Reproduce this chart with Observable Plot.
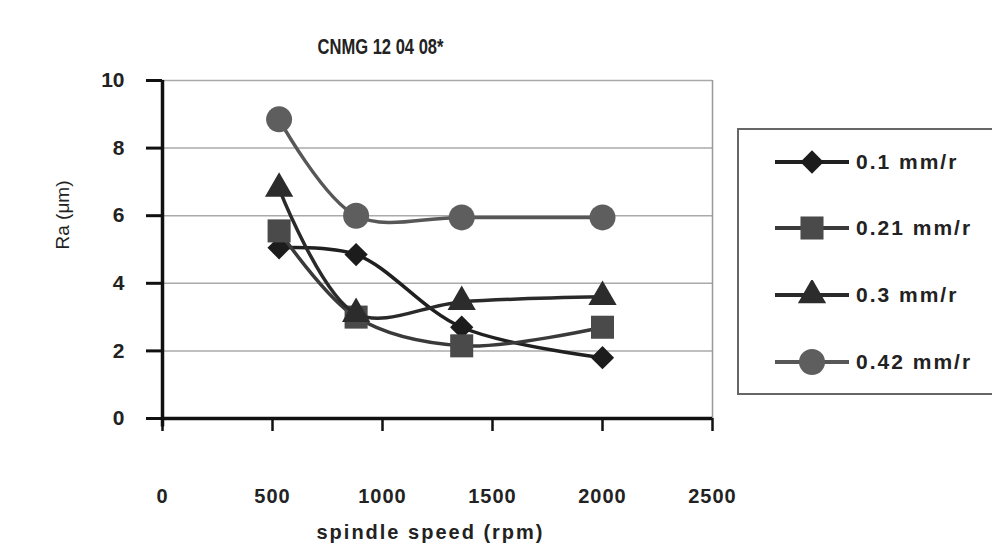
<!DOCTYPE html>
<html><head><meta charset="utf-8">
<script src="https://cdn.jsdelivr.net/npm/d3@7"></script>
<script src="https://cdn.jsdelivr.net/npm/@observablehq/plot@0.6"></script>
<style>
body{margin:0;background:#fff;}
#wrap{position:relative;width:992px;height:558px;overflow:hidden;font-family:"Liberation Sans",Arial,sans-serif;}
#legend{position:absolute;left:737px;top:128px;width:280px;height:267px;border:2px solid #666;box-sizing:border-box;background:#fff;}
.entry{position:absolute;left:34px;height:30px;display:flex;align-items:center;}
.entry span{font-weight:bold;font-size:21px;letter-spacing:2px;color:#222;margin-left:5px;}
g[aria-label="x-axis tick label"] text{letter-spacing:1px;}
</style></head><body><div id="wrap"></div>
<script>
// Data
const title = "CNMG 12 04 08*";
const xLabel = "spindle speed (rpm)";
const yLabel = "Ra (μm)";
const xTicks = [0, 500, 1000, 1500, 2000, 2500];
const yTicks = [0, 2, 4, 6, 8, 10];
const speeds = [530, 880, 1360, 2000];
const seriesNames = ["0.1 mm/r", "0.21 mm/r", "0.3 mm/r", "0.42 mm/r"];
const ra01 = [5.05, 4.85, 2.7, 1.8];
const ra021 = [5.55, 3.0, 2.15, 2.7];
const ra03 = [6.8, 3.1, 3.45, 3.6];
const ra042 = [8.85, 6.0, 5.95, 5.95];

const styles = [
  {symbol: "diamond2", r: 10.5, fill: "#1c1c1c", stroke: "#202020"},
  {symbol: "square", r: 13, fill: "#4a4a4a", stroke: "#3a3a3a"},
  {symbol: "triangle", r: 10.5, fill: "#2c2c2c", stroke: "#2a2a2a"},
  {symbol: "circle", r: 13, fill: "#5e5e5e", stroke: "#575757"}
];
const allValues = [ra01, ra021, ra03, ra042];
const series = seriesNames.map((name, k) => ({
  name, ...styles[k],
  data: speeds.map((x, i) => ({x, y: allValues[k][i]}))
}));

const font = "'Liberation Sans', Arial, sans-serif";
const marks = [
  Plot.ruleY(yTicks.filter(d => d > 0), {stroke: "#aaa", strokeWidth: 1.5}),
  Plot.ruleX([2500], {y1: 0, y2: 10, stroke: "#999", strokeWidth: 1.5}),
  Plot.axisY({ticks: yTicks, tickSize: 16, tickPadding: 22, fontSize: 21, fontWeight: "bold", stroke: "#111", strokeWidth: 3, fill: "#222", label: null}),
  Plot.axisX({ticks: xTicks, tickFormat: d => String(d), tickSize: 13, tickPadding: 57, fontSize: 20, fontWeight: "bold", stroke: "#111", strokeWidth: 2.5, fill: "#222", label: null}),
  Plot.ruleX([0], {y1: -0.25, y2: 10, stroke: "#111", strokeWidth: 3.5}),
  Plot.ruleY([0], {stroke: "#111", strokeWidth: 3.5}),
];
for (const s of series) {
  marks.push(Plot.line(s.data, {x: "x", y: "y", curve: "catmull-rom", stroke: s.stroke, strokeWidth: 3.5}));
  marks.push(Plot.dot(s.data, {x: "x", y: "y", symbol: s.symbol, r: s.r, fill: s.fill, stroke: "none"}));
}
marks.push(
  Plot.text([title], {frameAnchor: "top", dx: -57, dy: -42, fontSize: 22, fontWeight: 600, fill: "#222"}),
  Plot.text([xLabel], {frameAnchor: "bottom", dx: -7, dy: 120, fontSize: 20, fontWeight: "bold", fill: "#222"}),
  Plot.text([yLabel], {frameAnchor: "left", dx: -100, rotate: -90, fontSize: 19, fill: "#222"})
);

const chart = Plot.plot({
  width: 992, height: 558,
  marginLeft: 162, marginRight: 280, marginTop: 80, marginBottom: 140,
  x: {domain: [0, 2500]},
  y: {domain: [0, 10]},
  style: {fontFamily: font, background: "#fff"},
  marks
});
d3.select(chart).selectAll("text").each(function() {
  const t = this.textContent;
  if (t === title) d3.select(this).attr("textLength", 126).attr("lengthAdjust", "spacingAndGlyphs");
  if (t === xLabel) d3.select(this).style("letter-spacing", "2px");
});
const wrap = document.getElementById("wrap");
wrap.appendChild(chart);

// Legend
const legend = document.createElement("div");
legend.id = "legend";
const tops = [17, 83, 150, 217];
const symMap = {diamond2: d3.symbolDiamond2, square: d3.symbolSquare, triangle: d3.symbolTriangle, circle: d3.symbolCircle};
series.forEach((s, i) => {
  const e = document.createElement("div");
  e.className = "entry";
  e.style.top = tops[i] + "px";
  const path = d3.symbol(symMap[s.symbol], Math.PI * s.r * s.r)();
  e.innerHTML = `<svg width="78" height="30"><line x1="2" x2="76" y1="15" y2="15" stroke="${s.stroke}" stroke-width="3.8"/><path transform="translate(39,15)" d="${path}" fill="${s.fill}"/></svg><span>${s.name}</span>`;
  legend.appendChild(e);
});
wrap.appendChild(legend);
</script></body></html>
